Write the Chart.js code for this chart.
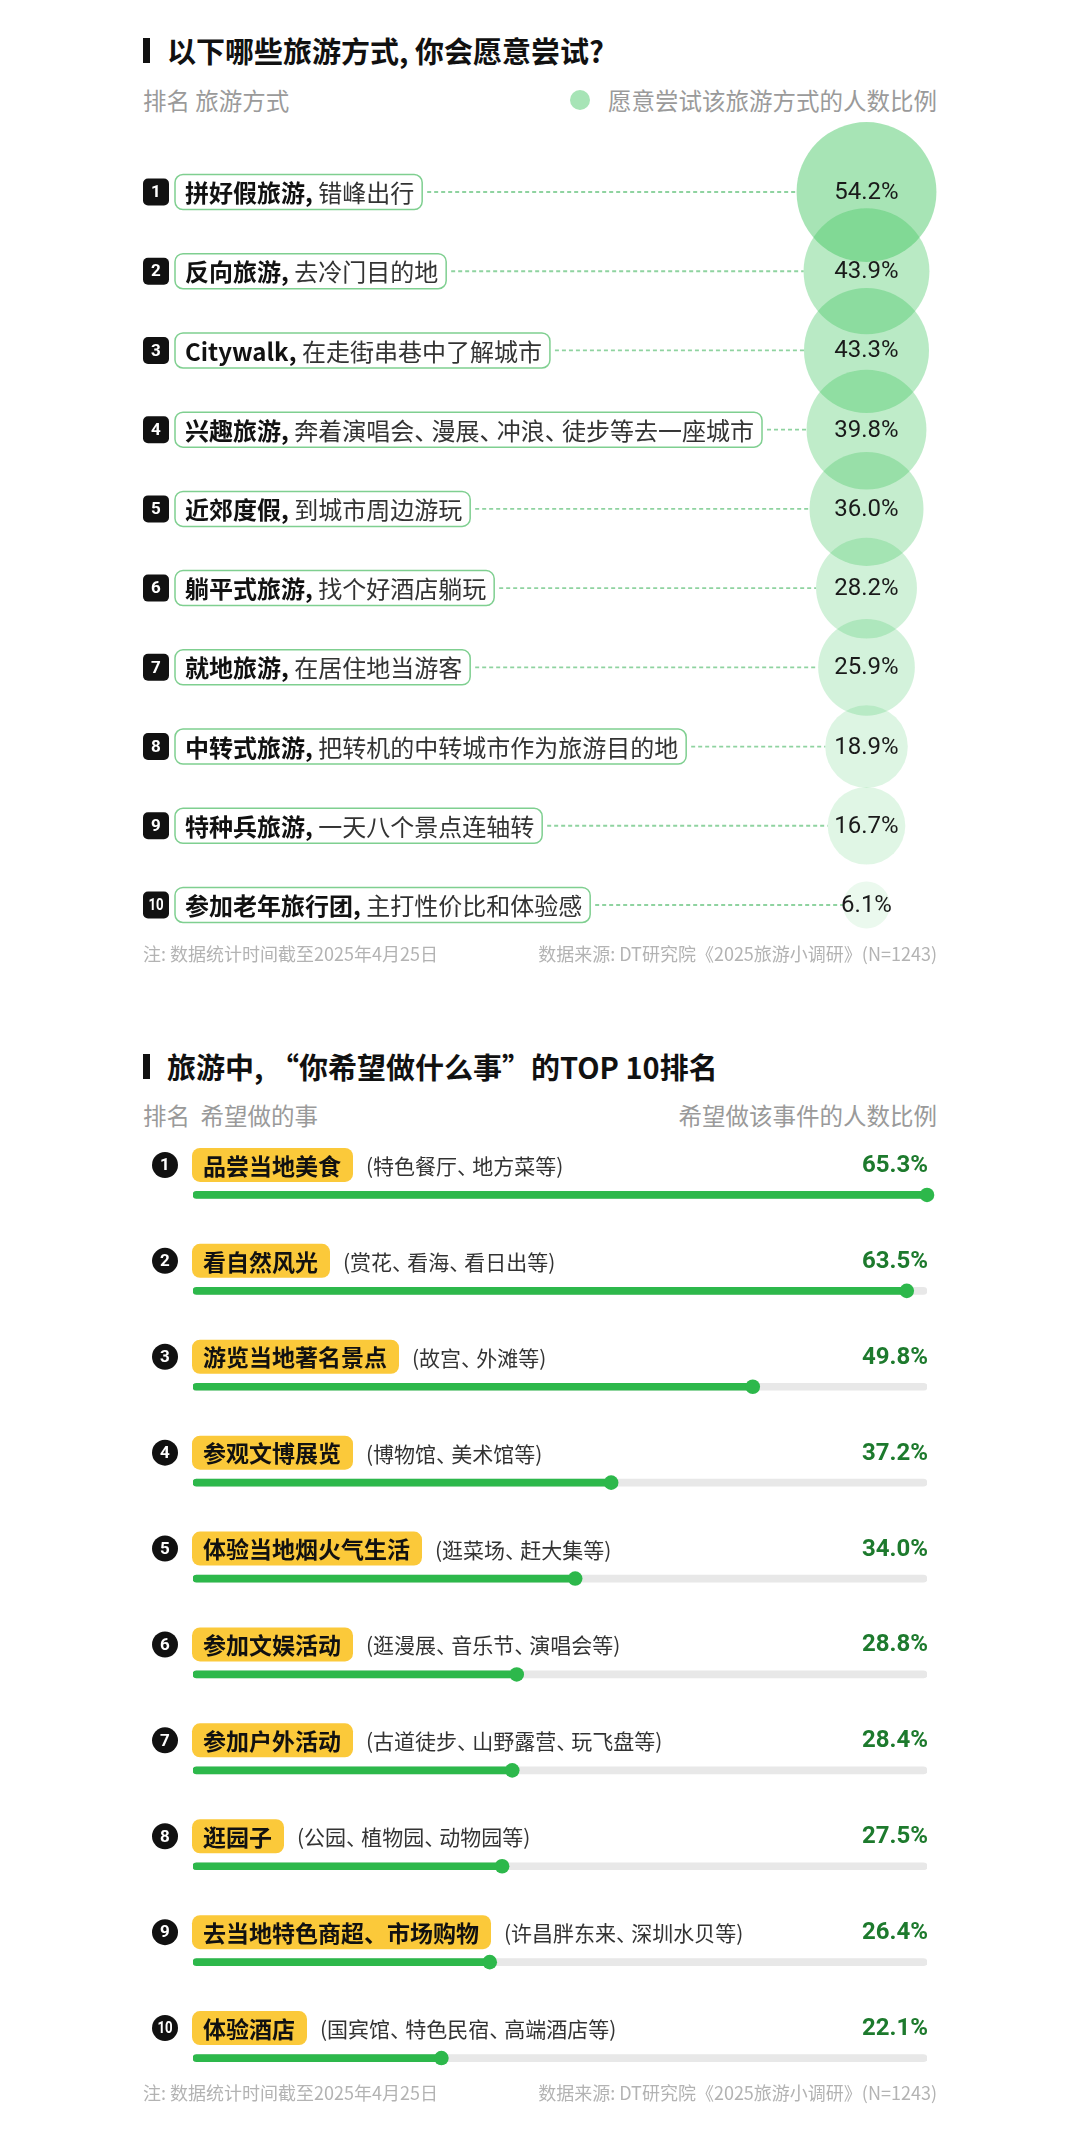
<!DOCTYPE html>
<html lang="zh-CN">
<head>
<meta charset="utf-8">
<script src="https://cdn.jsdelivr.net/npm/chart.js@4.4.1/dist/chart.umd.min.js"></script>
<style>
  html, body { margin: 0; padding: 0; background: #fff; }
  body { width: 1080px; height: 2134px; position: relative; overflow: hidden;
         font-family: "Noto Sans CJK SC", "Noto Sans", sans-serif; }
  .abs { position: absolute; white-space: nowrap; }
  .title { left: 143px; padding-left: 24px; font-size: 29px; font-weight: 700; color: #111; line-height: 29px; }
  .title::before { content: ""; position: absolute; left: 0; top: 2px; width: 7px; height: 25px; background: #111; }
  .head { font-size: 23.5px; color: #9a9a9a; line-height: 24px; }
  .foot { font-size: 18px; color: #b3b3b3; line-height: 18px; }
  .dot { position: absolute; width: 20px; height: 20px; border-radius: 50%; background: #a7e4b6; }
  .wrap { position: absolute; left: 0; width: 1080px; }
</style>
</head>
<body>
  <div class="abs title" style="top:36px">以下哪些旅游方式, 你会愿意尝试?</div>
  <div class="abs head" style="left:143px; top:88px">排名 旅游方式</div>
  <div class="dot" style="left:570px; top:90px"></div>
  <div class="abs head" style="right:143px; top:88px">愿意尝试该旅游方式的人数比例</div>
  <div class="wrap" style="top:100px; height:900px"><canvas id="tryChart"></canvas></div>
  <div class="abs foot" style="left:143px; top:944px">注: 数据统计时间截至2025年4月25日</div>
  <div class="abs foot" style="right:143px; top:944px">数据来源: DT研究院《2025旅游小调研》(N=1243)</div>

  <div class="abs title" style="top:1052px">旅游中, “你希望做什么事”的TOP 10排名</div>
  <div class="abs head" style="left:143px; top:1103px">排名&nbsp;&nbsp;希望做的事</div>
  <div class="abs head" style="right:143px; top:1103px">希望做该事件的人数比例</div>
  <div class="wrap" style="top:1130px; height:1000px"><canvas id="doChart"></canvas></div>
  <div class="abs foot" style="left:143px; top:2083px">注: 数据统计时间截至2025年4月25日</div>
  <div class="abs foot" style="right:143px; top:2083px">数据来源: DT研究院《2025旅游小调研》(N=1243)</div>

<script>
// chart 1: which travel styles would you try
const tryMain = ["拼好假旅游,", "反向旅游,", "Citywalk,", "兴趣旅游,", "近郊度假,",
  "躺平式旅游,", "就地旅游,", "中转式旅游,", "特种兵旅游,", "参加老年旅行团,"];
const tryDesc = ["错峰出行", "去冷门目的地", "在走街串巷中了解城市", "奔着演唱会、漫展、冲浪、徒步等去一座城市",
  "到城市周边游玩", "找个好酒店躺玩", "在居住地当游客", "把转机的中转城市作为旅游目的地",
  "一天八个景点连轴转", "主打性价比和体验感"];
const tryValues = [54.2, 43.9, 43.3, 39.8, 36.0, 28.2, 25.9, 18.9, 16.7, 6.1];

// chart 2: top 10 things to do
const doItems = ["品尝当地美食", "看自然风光", "游览当地著名景点", "参观文博展览", "体验当地烟火气生活",
  "参加文娱活动", "参加户外活动", "逛园子", "去当地特色商超、市场购物", "体验酒店"];
const doNotes = ["(特色餐厅、地方菜等)", "(赏花、看海、看日出等)", "(故宫、外滩等)", "(博物馆、美术馆等)",
  "(逛菜场、赶大集等)", "(逛漫展、音乐节、演唱会等)", "(古道徒步、山野露营、玩飞盘等)",
  "(公园、植物园、动物园等)", "(许昌胖东来、深圳水贝等)", "(国宾馆、特色民宿、高端酒店等)"];
const doValues = [65.3, 63.5, 49.8, 37.2, 34.0, 28.8, 28.4, 27.5, 26.4, 22.1];

const CJK = '"Noto Sans CJK SC", "Noto Sans", sans-serif';
const NUM = 'Roboto, "Noto Sans", sans-serif';
const maxTry = Math.max(...tryValues);
const maxDo = Math.max(...doValues);

// text with a tighter 、 (like the reference), returns the width
function compactText(ctx, text, x, y, fs, draw) {
  let cx = x;
  text.split(/(、)/).forEach((part) => {
    if (!part) return;
    if (draw) ctx.fillText(part, cx, y);
    cx += part === "、" ? fs * 0.72 : ctx.measureText(part).width;
  });
  return cx - x;
}

function rankBadge(ctx, cx, cy, n, round) {
  ctx.fillStyle = "#111";
  ctx.beginPath();
  if (round) ctx.arc(cx, cy, 13, 0, Math.PI * 2);
  else ctx.roundRect(cx - 13, cy - 13.5, 26, 27, 5);
  ctx.fill();
  ctx.save();
  ctx.translate(cx, cy + 1);
  if (n >= 10) ctx.scale(0.78, 1);
  ctx.fillStyle = "#fff";
  ctx.font = "700 17px " + NUM;
  ctx.textAlign = "center";
  ctx.textBaseline = "middle";
  ctx.fillText(String(n), 0, 0);
  ctx.restore();
}

function tryWidths(ctx, i) {
  ctx.font = "700 24px " + CJK;
  const mw = ctx.measureText(tryMain[i]).width;
  ctx.font = "400 24px " + CJK;
  const dw = compactText(ctx, " " + tryDesc[i], 0, 0, 24, false);
  return [mw, dw];
}

const tryLabels = {
  id: "tryLabels",
  beforeDatasetsDraw(chart) {
    const { ctx } = chart;
    const meta = chart.getDatasetMeta(0);
    ctx.save();
    meta.data.forEach((pt, i) => {
      const [mw, dw] = tryWidths(ctx, i);
      const x1 = 175 + 10 + mw + dw + 8;
      ctx.strokeStyle = "#8fd3a0";
      ctx.lineWidth = 1.8;
      ctx.setLineDash([4, 3]);
      ctx.beginPath();
      ctx.moveTo(x1 + 5, pt.y);
      ctx.lineTo(pt.x - pt.options.radius, pt.y);
      ctx.stroke();
    });
    ctx.restore();
  },
  afterDatasetsDraw(chart) {
    const { ctx } = chart;
    const meta = chart.getDatasetMeta(0);
    ctx.save();
    meta.data.forEach((pt, i) => {
      const y = pt.y;
      rankBadge(ctx, 156, y, i + 1, false);
      const [mw, dw] = tryWidths(ctx, i);
      const w = 10 + mw + dw + 8;
      ctx.fillStyle = "#fff";
      ctx.strokeStyle = "#7fcf90";
      ctx.lineWidth = 1.5;
      ctx.beginPath();
      ctx.roundRect(175, y - 17.5, w, 35, 8);
      ctx.fill();
      ctx.stroke();
      ctx.textBaseline = "middle";
      ctx.textAlign = "left";
      ctx.fillStyle = "#111";
      ctx.font = "700 24px " + CJK;
      ctx.fillText(tryMain[i], 185, y + 1);
      ctx.fillStyle = "#333";
      ctx.font = "400 24px " + CJK;
      compactText(ctx, " " + tryDesc[i], 185 + mw, y + 1, 24, true);
      ctx.fillStyle = "#1a1a1a";
      ctx.font = "400 24px " + NUM;
      ctx.textAlign = "center";
      ctx.fillText(tryValues[i].toFixed(1) + "%", pt.x, y + 1);
    });
    ctx.restore();
  }
};

new Chart(document.getElementById("tryChart"), {
  type: "bubble",
  data: {
    datasets: [{
      data: tryValues.map((v, i) => ({ x: 0, y: i + 1, r: 9.5 * Math.sqrt(v) })),
      backgroundColor: (c) => {
        const v = tryValues[c.dataIndex] || 0;
        const a = 0.08 + 0.37 * Math.pow(v / maxTry, 1.3);
        return `rgba(60,196,92,${a.toFixed(3)})`;
      },
      borderWidth: 0,
      clip: false,
    }],
  },
  plugins: [tryLabels],
  options: {
    responsive: true,
    maintainAspectRatio: false,
    animation: false,
    events: [],
    layout: { autoPadding: false, padding: { top: 12.8, bottom: 15.8, left: 796, right: 143 } },
    plugins: { legend: { display: false }, tooltip: { enabled: false } },
    scales: {
      x: { display: false, min: -1, max: 1 },
      y: { display: false, min: 0, max: 11, reverse: true },
    },
  },
});

const doLabels = {
  id: "doLabels",
  afterDatasetsDraw(chart) {
    const { ctx } = chart;
    const meta = chart.getDatasetMeta(1);
    const xEnd = chart.scales.x.getPixelForValue(maxDo);
    ctx.save();
    meta.data.forEach((bar, i) => {
      const y = bar.y - 30;
      rankBadge(ctx, 165, y, i + 1, true);
      ctx.font = "700 23px " + CJK;
      const tw = ctx.measureText(doItems[i]).width;
      const w = 11 + tw + 12;
      ctx.fillStyle = "#fbc93a";
      ctx.beginPath();
      ctx.roundRect(192, y - 17, w, 34, 8);
      ctx.fill();
      ctx.fillStyle = "#111";
      ctx.textBaseline = "middle";
      ctx.textAlign = "left";
      ctx.fillText(doItems[i], 203, y + 1);
      ctx.fillStyle = "#333";
      ctx.font = "400 21px " + CJK;
      compactText(ctx, doNotes[i], 192 + w + 13, y + 1, 21, true);
      ctx.fillStyle = "#1d7a2d";
      ctx.font = "700 24px " + NUM;
      ctx.textAlign = "right";
      ctx.fillText(doValues[i].toFixed(1) + "%", xEnd + 1, y + 1);
    });
    ctx.restore();
  }
};

new Chart(document.getElementById("doChart"), {
  type: "bar",
  data: {
    labels: doItems,
    datasets: [
      {
        data: doValues.map(() => maxDo),
        backgroundColor: "#e8e8e8",
        barThickness: 7,
        borderRadius: 4,
        borderSkipped: false,
        grouped: false,
        order: 3,
      },
      {
        data: doValues,
        backgroundColor: "#2db84b",
        barThickness: 7,
        borderRadius: 4,
        borderSkipped: false,
        grouped: false,
        order: 2,
      },
      {
        type: "line",
        indexAxis: "y",
        data: doValues,
        showLine: false,
        pointRadius: 7.3,
        pointBorderWidth: 0,
        pointBackgroundColor: "#2db84b",
        clip: false,
        order: 1,
      },
    ],
  },
  plugins: [doLabels],
  options: {
    indexAxis: "y",
    responsive: true,
    maintainAspectRatio: false,
    animation: false,
    events: [],
    layout: { autoPadding: false, padding: { top: 17, bottom: 24, left: 193, right: 153 } },
    plugins: { legend: { display: false }, tooltip: { enabled: false } },
    scales: {
      x: { display: false, min: 0, max: maxDo },
      y: { display: false },
    },
  },
});
</script>
</body>
</html>
